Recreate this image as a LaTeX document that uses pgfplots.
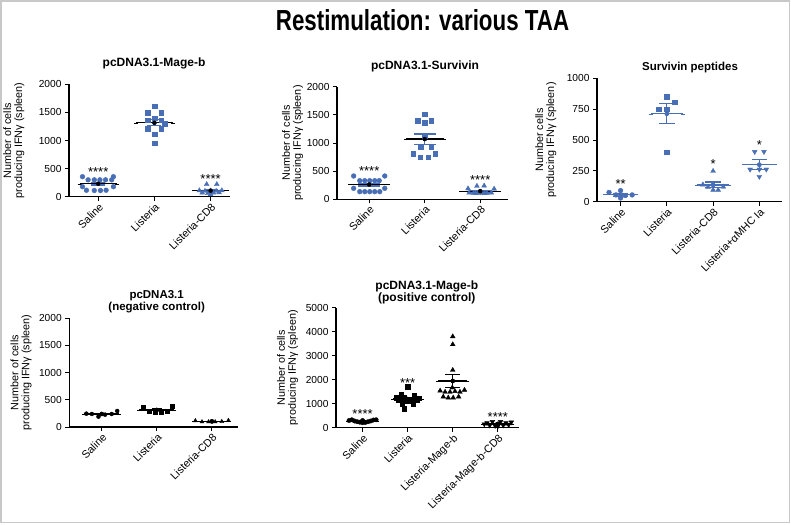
\documentclass[border=0pt]{standalone}
\usepackage{fontspec}
\setmainfont{Liberation Sans}
\usepackage{pgfplots}
\pgfplotsset{compat=1.18}
\definecolor{pblue}{RGB}{72,110,182}
\definecolor{framegray}{RGB}{200,200,200}
\tikzset{stars/.style={anchor=base, yshift=-7.5pt, font=\fontsize{13}{13}\selectfont}}
\pgfplotsset{
  prism/.style={
    scale only axis, clip=false,
    axis x line*=bottom, axis y line*=left,
    axis line style={line width=1.1pt},
    every tick/.style={black, line width=1pt},
    tick align=outside, major tick length=4pt,
    ymin=0, scaled y ticks=false,
    /pgf/number format/assume math mode=true,
    /pgf/number format/1000 sep={},
    tick label style={font=\fontsize{10.2}{12}\selectfont},
    xtick={0,1,2,3},
    xticklabel style={rotate=45, anchor=north east, inner sep=1pt, font=\fontsize{10.8}{12}\selectfont},
    every axis y label/.style={rotate=90, anchor=center, align=center, font=\fontsize{10.8}{11}\selectfont},
    every axis title/.style={anchor=south, align=center, font=\fontsize{12}{12}\selectfont\bfseries},
  },
  meanline/.style={only marks, mark=none, forget plot, color=#1, error bars/.cd, x dir=both, x explicit, error bar style={line width=1.3pt}, error mark options={draw=none}},
  semline/.style 2 args={only marks, mark=none, forget plot, color=#1, error bars/.cd, y dir=both, y explicit, error bar style={line width=1.2pt}, error mark=|, error mark options={line width=1.2pt, mark size=#2}},
}
\begin{document}
\begin{tikzpicture}
\useasboundingbox (0,0) rectangle (791pt,-524pt);
\draw[framegray, line width=1.5pt] (1pt,-1pt) rectangle (789.5pt,-522.5pt);
\node[anchor=base, font=\fontsize{29}{30}\selectfont\bfseries, xscale=0.77] at (422.5pt,-31pt) {Restimulation: various TAA};

% Panel 1
\begin{axis}[prism, at={(69pt,-196.7pt)}, anchor=south west, width=161pt, height=112.4pt,
  xmin=-0.52, xmax=2.345, ymax=2000, ytick={0,500,1000,1500,2000},
  xticklabels={Saline,Listeria,Listeria-CD8},
  ylabel={Number of cells\\producing IFNγ (spleen)},
  ylabel style={at={(axis description cs:-0.342,0.5)}},
  title={pcDNA3.1-Mage-b}, title style={at={(axis description cs:0.528,1)}, yshift=11.8pt}]
\addplot[only marks, mark=*, mark size=2.4pt, pblue] coordinates {(-0.28,356)(0.27,356)(-0.18,300)(-0.07,300)(0.03,300)(0.13,300)(0.24,300)(-0.28,178)(0.27,178)(-0.21,115)(-0.07,110)(0.04,110)(0.14,115)};
\addplot[only marks, mark=square*, mark size=2.3pt, pblue] coordinates {(1,1610)(0.88,1500)(1.12,1500)(1,1395)(0.88,1360)(1.12,1360)(1.18,1300)(0.88,1210)(1.12,1210)(1,1110)(1,950)};
\addplot[only marks, mark=triangle*, mark size=2.8pt, pblue] coordinates {(1.93,220)(2.11,220)(1.8,110)(1.9,100)(2,105)(2.1,100)(2.2,110)(1.85,70)(1.95,60)(2.05,70)(2.15,75)(2,40)};
\addplot[semline={pblue}{7pt}] coordinates {(0,230) +- (0,22) (1,1315) +- (0,55) (2,107) +- (0,18)};
\addplot[meanline=black] coordinates {(0,230) +- (0.33,0) (1,1315) +- (0.33,0) (2,107) +- (0.3,0)};
\node[stars] at (axis cs:0,500) {****};
\node[stars] at (axis cs:2,360) {****};
\end{axis}

% Panel 2
\begin{axis}[prism, at={(337pt,-199.3pt)}, anchor=south west, width=171pt, height=112.6pt,
  xmin=-0.58, xmax=2.5, ymax=2000, ytick={0,500,1000,1500,2000},
  xticklabels={Saline,Listeria,Listeria-CD8},
  ylabel={Number of cells\\producing IFNγ (spleen)},
  ylabel style={at={(axis description cs:-0.26,0.5)}},
  title={pcDNA3.1-Survivin}, title style={at={(axis description cs:0.515,1)}, yshift=10.9pt}]
\addplot[only marks, mark=*, mark size=2.4pt, pblue] coordinates {(-0.28,414)(0.28,414)(-0.17,331)(-0.08,331)(0.01,331)(0.1,331)(0.18,331)(-0.28,195)(0.28,195)(-0.17,136)(-0.08,136)(0.01,136)(0.1,136)(0.19,136)};
\addplot[only marks, mark=square*, mark size=2.3pt, pblue] coordinates {(1,1510)(0.87,1400)(1.12,1400)(1,1360)(1,1130)(0.93,925)(1.12,925)(0.79,810)(1.19,810)(0.92,750)(1.06,750)};
\addplot[only marks, mark=triangle*, mark size=2.8pt, pblue] coordinates {(1.94,235)(2.07,240)(1.78,190)(2.25,185)(1.8,115)(1.88,110)(1.96,110)(2.04,110)(2.12,110)(2.2,115)(1.92,105)(2.08,105)};
\addplot[semline={pblue}{11pt}] coordinates {(0,262) +- (0,25) (1,1070) +- (0,90) (2,144) +- (0,14)};
\addplot[meanline=black] coordinates {(0,262) +- (0.34,0) (1,1070) +- (0.34,0) (2,144) +- (0.34,0)};
\node[stars] at (axis cs:0,560) {****};
\node[stars] at (axis cs:2,400) {****};
\end{axis}

% Panel 3
\begin{axis}[prism, at={(597pt,-201.7pt)}, anchor=south west, width=185pt, height=123.4pt,
  xmin=-0.51, xmax=3.49, ymax=1000, ytick={0,250,500,750,1000},
  xticklabels={Saline,Listeria,Listeria-CD8,Listeria+αMHC Ia},
  ylabel={Number cells\\producing IFNγ (spleen)},
  ylabel style={at={(axis description cs:-0.276,0.5)}},
  title={Survivin peptides}, title style={at={(axis description cs:0.503,1)}, yshift=1.5pt, font=\fontsize{11.5}{12}\selectfont\bfseries}]
\addplot[only marks, mark=*, mark size=2.4pt, pblue] coordinates {(-0.25,75)(0,90)(-0.1,55)(0.1,50)(0.25,55)(0,30)};
\addplot[only marks, mark=square*, mark size=2.3pt, pblue] coordinates {(1,850)(1.17,805)(0.83,750)(1,750)(1,400)};
\addplot[only marks, mark=triangle*, mark size=2.8pt, pblue] coordinates {(2,248)(1.78,138)(1.89,118)(2,95)(2.11,95)(2.22,120)};
\addplot[only marks, mark=triangle*, mark size=2.8pt, mark options={rotate=180}, pblue] coordinates {(2.9,405)(3.1,405)(2.8,262)(3,262)(3.15,262)(3,203)};
\addplot[semline={pblue}{7.8pt}] coordinates {(0,57) +- (0,12) (1,713) +- (0,80) (2,136) +- (0,23) (3,300) +- (0,40)};
\addplot[meanline=pblue] coordinates {(0,57) +- (0.34,0) (1,713) +- (0.34,0) (2,136) +- (0.34,0) (3,300) +- (0.34,0)};
\node[stars] at (axis cs:0,170) {**};
\node[stars] at (axis cs:2,330) {*};
\node[stars] at (axis cs:3,480) {*};
\end{axis}

% Panel 4
\begin{axis}[prism, at={(69.3pt,-427pt)}, anchor=south west, width=169pt, height=109pt,
  xmin=-0.59, xmax=2.48, ymax=2000, ytick={0,500,1000,1500,2000},
  xticklabels={Saline,Listeria,Listeria-CD8},
  ylabel={Number of cells\\producing IFNγ (spleen)},
  ylabel style={at={(axis description cs:-0.285,0.5)}},
  title={pcDNA3.1\\(negative control)}, title style={at={(axis description cs:0.517,1)}, yshift=1.3pt, font=\fontsize{11.5}{12}\selectfont\bfseries}]
\addplot[only marks, mark=*, mark size=2pt, black] coordinates {(-0.28,245)(-0.18,239)(-0.06,190)(0.06,227)(0.18,239)(0.28,294)};
\addplot[only marks, mark=square*, mark size=2pt, black] coordinates {(0.76,361)(0.87,294)(0.97,275)(1.08,275)(1.18,294)(1.28,379)};
\addplot[only marks, mark=triangle*, mark size=2.3pt, black] coordinates {(1.7,115)(1.82,95)(1.94,95)(2.06,95)(2.18,100)(2.3,120)};
\addplot[semline={black}{5pt}] coordinates {(0,239) +- (0,14) (1,313) +- (0,17) (2,103) +- (0,5)};
\addplot[meanline=black] coordinates {(0,239) +- (0.32,0) (1,313) +- (0.32,0) (2,103) +- (0.32,0)};
\end{axis}

% Panel 5
\begin{axis}[prism, at={(336pt,-427.7pt)}, anchor=south west, width=183pt, height=120pt,
  xmin=-0.59, xmax=3.47, ymax=5000, ytick={0,1000,2000,3000,4000,5000},
  xticklabels={Saline,Listeria,Listeria-Mage-b,Listeria-Mage-b-CD8},
  ylabel={Number of cells\\producing IFNγ (spleen)},
  ylabel style={at={(axis description cs:-0.265,0.5)}},
  title={pcDNA3.1-Mage-b\\(positive control)}, title style={at={(axis description cs:0.496,1)}, yshift=0pt, font=\fontsize{12}{12}\selectfont\bfseries}]
\addplot[only marks, mark=*, mark size=2.2pt, black] coordinates {(-0.3,300)(-0.24,330)(-0.18,280)(-0.12,250)(-0.06,230)(0,210)(0.06,220)(0.12,250)(0.18,280)(0.24,320)(0.3,330)(0,300)};
\addplot[only marks, mark=square*, mark size=2.2pt, black] coordinates {(1,1710)(0.85,1380)(1.15,1350)(0.75,1250)(1.25,1230)(0.92,1250)(1.08,1200)(0.8,1150)(1.2,1150)(1,1100)(0.88,1000)(1.12,980)(0.92,800)};
\addplot[only marks, mark=triangle*, mark size=2.7pt, black] coordinates {(2,3800)(2,3470)(2,2400)(1.99,1668)(1.72,1540)(1.83,1490)(1.94,1490)(2.05,1515)(2.16,1490)(2.26,1570)(1.79,1290)(1.9,1250)(2.01,1250)(2.13,1290)};
\addplot[only marks, mark=triangle*, mark size=2.7pt, mark options={rotate=180}, black] coordinates {(2.7,150)(2.76,200)(2.82,100)(2.88,250)(2.94,80)(3,150)(3.06,250)(3.12,100)(3.18,200)(3.24,120)(3.3,230)(3,60)};
\addplot[semline={black}{7.5pt}] coordinates {(0,275) +- (0,20) (1,1196) +- (0,70) (2,1946) +- (0,280) (3,157) +- (0,20)};
\addplot[meanline=black] coordinates {(0,275) +- (0.32,0) (1,1196) +- (0.32,0) (2,1946) +- (0.32,0) (3,157) +- (0.32,0)};
\node[stars] at (axis cs:0,695) {****};
\node[stars] at (axis cs:1,1990) {***};
\node[stars] at (axis cs:3,555) {****};
\end{axis}
\end{tikzpicture}
\end{document}
